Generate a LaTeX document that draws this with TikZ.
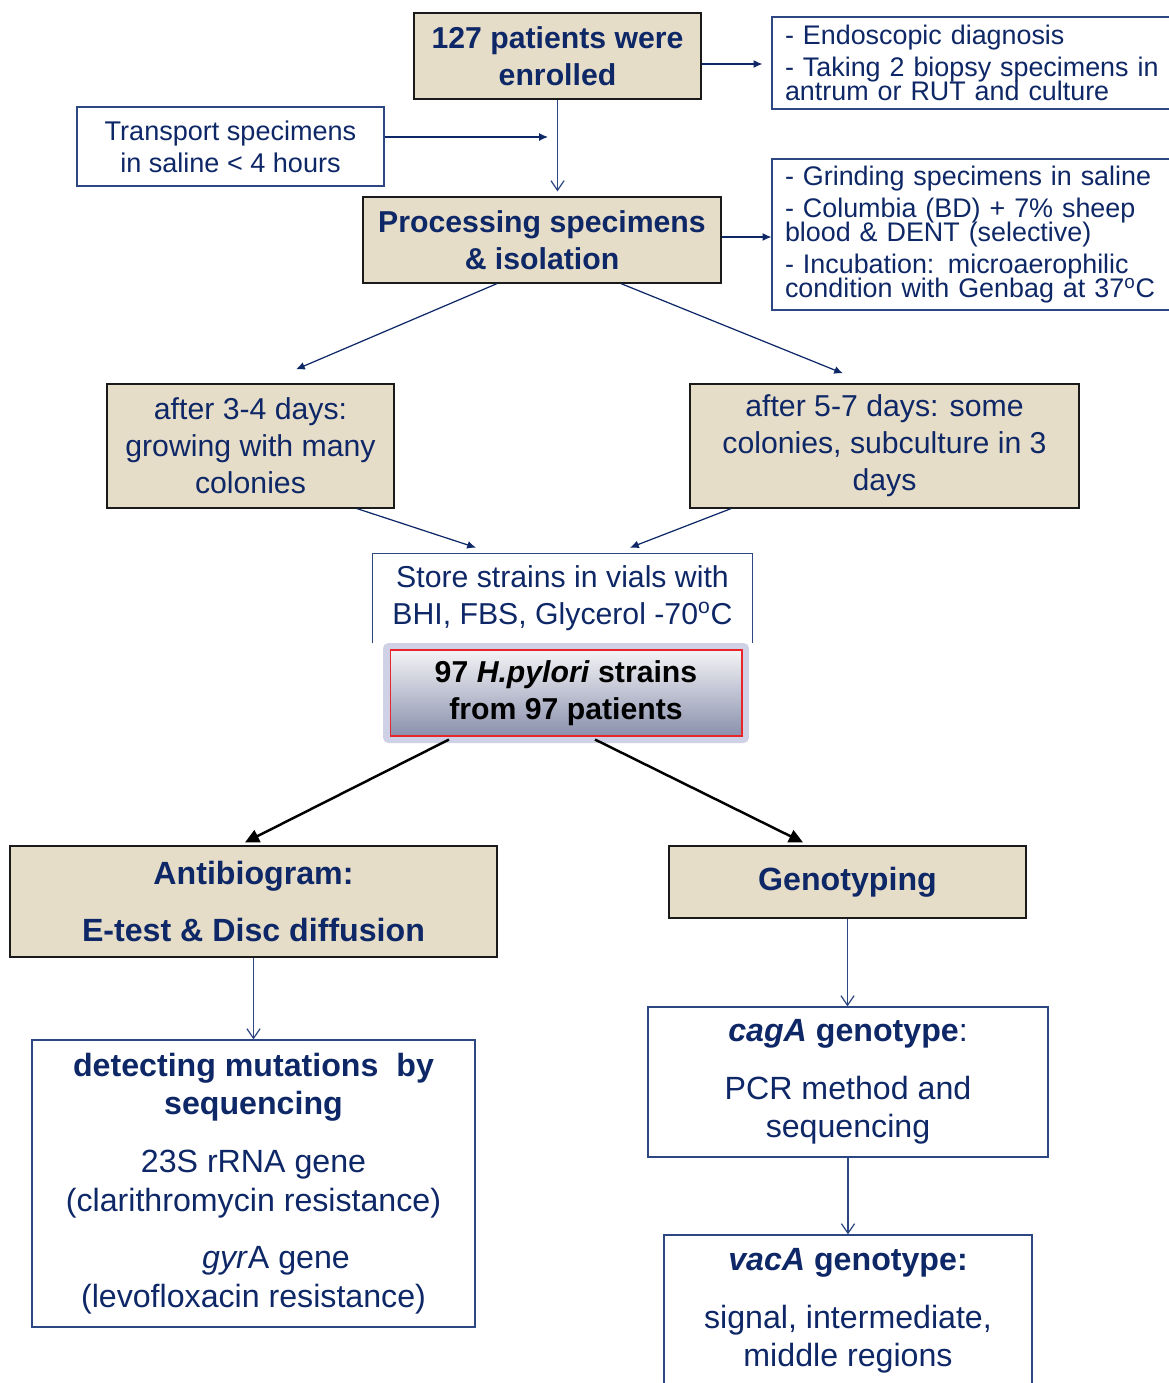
\documentclass[tikz,border=0pt]{standalone}
\usepackage{fontspec}
\setmainfont{Liberation Sans}
\usetikzlibrary{arrows.meta,calc,positioning}
\definecolor{ink}{HTML}{0E2766}
\definecolor{frame}{HTML}{2D4783}
\definecolor{tan}{HTML}{E6DDC8}
\definecolor{tanline}{HTML}{1A1A1A}
\definecolor{lavender}{HTML}{CFD2E6}
\definecolor{pyltop}{HTML}{F4F4F6}
\definecolor{pylbot}{HTML}{8A90AD}
\definecolor{redline}{HTML}{E8262A}
\newcommand{\fsMid}{\fontsize{17.2}{21}\selectfont}
\newcommand{\fsBig}{\fontsize{18.3}{22}\selectfont}
\newcommand{\fsNote}{\fontsize{15.3}{13.8}\selectfont\lineskiplimit=-20pt}
\newcommand{\fsSide}{\fontsize{15.4}{18.1}\selectfont}
\tikzset{
  basebox/.style={align=center,text=ink,inner sep=2pt},
  tanbox/.style={basebox,draw=tanline,fill=tan,line width=0.7pt},
  whitebox/.style={basebox,draw=frame,fill=white,line width=0.7pt},
  notebox/.style={whitebox,align=left,font=\fsNote,inner xsep=0.26cm,text width=7.64cm},
  arrow/.style={-{Latex[length=5pt,width=4.5pt]},line width=0.7pt,draw=ink},
  openarrow/.style={-{Straight Barb[length=5.5pt,width=7.5pt]},line width=0.7pt,draw=frame},
  bigarrow/.style={-{Triangle[length=8pt,width=7.5pt]},line width=1.4pt,draw=black}
}
\begin{document}
\begin{tikzpicture}[x=0.02cm,y=-0.02cm,
    t/.style={tanbox,font=\fsMid},
    tb/.style={tanbox,font=\fsMid\bfseries},
    tbig/.style={tanbox,font=\fsBig\bfseries},
    w/.style={whitebox,font=\fsBig}
  ]
    \useasboundingbox (0,0) rectangle (1169,1383);
    % top row
    \node[tb,minimum width=5.74cm,minimum height=1.72cm] (pat) at (557.5,56) {127 patients were\\enrolled};
    \node[notebox,minimum height=1.84cm] (endo) at (976,63)
      {- Endoscopic diagnosis\\[4.3pt]- Taking 2 biopsy specimens in\\antrum or RUT and culture};
    \node[whitebox,font=\fsSide,minimum width=6.14cm,minimum height=1.58cm] (trans) at (230.5,146.5)
      {Transport specimens\\in saline < 4 hours};
    \coordinate (trend) at (548,137);
    \node[tb,minimum width=7.16cm,minimum height=1.72cm] (proc) at (542,240) {Processing specimens\\\& isolation};
    \node[notebox,minimum height=3.02cm] (grind) at (976,234.5)
      {- Grinding specimens in saline\\[4.3pt]- Columbia (BD) + 7\% sheep\\blood \& DENT (selective)\\[4.3pt]- Incubation: microaerophilic\\condition with Genbag at 37\textsuperscript{o}C};
    % culture
    \node[t,minimum width=5.74cm,minimum height=2.48cm] (early) at (250.5,446) {after 3-4 days:\\growing with many\\colonies};
    \node[t,minimum width=7.78cm,minimum height=2.48cm] (late) at (884.5,446) {after 5-7 days: some\\colonies, subculture in 3\\days};
    \node[basebox,font=\fsMid,minimum width=7.58cm,minimum height=1.78cm] (store) at (562.5,598.5)
      {Store strains in vials with\\BHI, FBS, Glycerol -70\textsuperscript{o}C};
    \draw[frame,line width=0.7pt] (store.south west) -- (store.north west) -- (store.north east) -- (store.south east);
    \node[fill=lavender,rounded corners=3pt,minimum width=7.32cm,minimum height=2.0cm] (pylf) at (566,693) {};
    \node[draw=redline,line width=0.6pt,top color=pyltop,bottom color=pylbot,align=center,font=\fsMid\bfseries,
      minimum width=7.04cm,minimum height=1.72cm] (pyl) at (566,693) {97 \textit{H.pylori} strains\\from 97 patients};
    % analysis
    \node[tbig,minimum width=9.74cm,minimum height=2.22cm] (anti) at (253.5,901.5) {Antibiogram:\\[10.8pt]E-test \& Disc diffusion};
    \node[tbig,minimum width=7.14cm,minimum height=1.44cm] (geno) at (847.5,882) {Genotyping};
    \node[w,minimum width=8.86cm,minimum height=5.74cm] (detect) at (253.5,1183.5)
      {\textbf{detecting mutations~ by}\\\textbf{sequencing}\\[10.8pt]23S rRNA gene\\(clarithromycin resistance)\\[10.8pt]\hspace*{0.9cm}\textit{gyr}A gene\\(levofloxacin resistance)};
    \node[w,minimum width=8.0cm,minimum height=3.0cm] (cag) at (848,1082)
      {\textbf{\textit{cagA} genotype}:\\[10.8pt]PCR method and\\sequencing};
    \node[w,minimum width=7.36cm,minimum height=3.04cm] (vac) at (848,1311)
      {\textbf{\textit{vacA} genotype:}\\[10.8pt]signal, intermediate,\\middle regions};
    % connectors
    \draw[arrow] ($(pat.east)+(0,8)$) -- ($(pat.east -| endo.west)+(-9,8)$);
    \draw[arrow] (trend -| trans.east) -- (trend);
    \draw[openarrow] (pat.south) -- ($(pat.south |- proc.north)+(0,-5)$);
    \draw[arrow] ($(proc.east)+(0,-3)$) -- ($(proc.east -| grind.west)+(0,-3)$);
    \draw[arrow] ($(proc.south)+(-45,0)$) -- ($(early.north)+(45.5,-14)$);
    \draw[arrow] ($(proc.south)+(79,0)$) -- ($(late.north)+(-41.5,-10)$);
    \draw[arrow] ($(early.south)+(106.5,0)$) -- ($(store.north)+(-86.5,-6)$);
    \draw[arrow] ($(late.south)+(-153.5,0)$) -- ($(store.north)+(67.5,-6)$);
    \draw[bigarrow] ($(pyl.south)+(-117,3)$) -- ($(anti.north)+(-8.5,-3)$);
    \draw[bigarrow] ($(pyl.south)+(29,3)$) -- ($(geno.north)+(-44.5,-3)$);
    \foreach \a/\b in {anti/detect,geno/cag,cag/vac}
      \draw[openarrow] (\a.south) -- (\a.south |- \b.north);
  \end{tikzpicture}
\end{document}
